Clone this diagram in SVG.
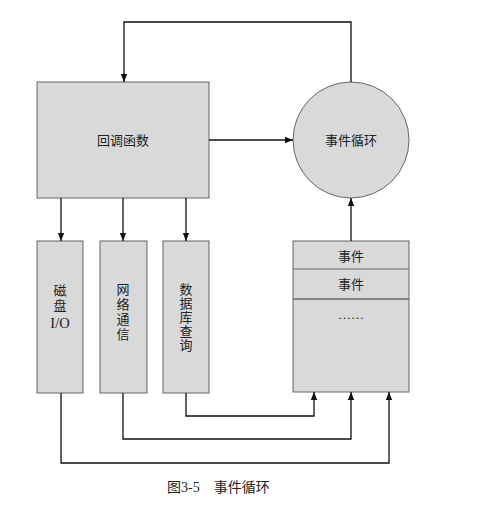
<svg xmlns="http://www.w3.org/2000/svg" width="499" height="508" viewBox="0 0 499 508">
<style>
.n{fill:#d9d9d9;stroke:#666;stroke-width:1}
.t{font-family:"Liberation Serif","Noto Sans CJK SC",serif;font-size:13px;fill:#222;text-anchor:middle;dominant-baseline:central}
.c{fill:none;stroke:#111;stroke-width:1.3}
</style>
<defs>
<marker id="a" viewBox="0 0 10 10" refX="10" refY="5" markerWidth="8" markerHeight="8" markerUnits="userSpaceOnUse" orient="auto-start-reverse">
<path d="M0,1 L10,5 L0,9 Z" fill="#111"/>
</marker>
</defs>
<rect width="499" height="508" fill="#fff"/>
<g id="callback">
<rect class="n" x="37" y="82" width="172" height="116"/>
<text class="t" x="123" y="140">回调函数</text>
</g>
<g id="loop">
<circle class="n" cx="351" cy="140" r="58"/>
<text class="t" x="351" y="140">事件循环</text>
</g>
<g id="disk">
<rect class="n" x="37" y="241" width="46" height="152"/>
<text class="t" x="60" y="290">磁</text>
<text class="t" x="60" y="305">盘</text>
<text class="t" x="60" y="323" style="font-size:14.5px">I/O</text>
</g>
<g id="net">
<rect class="n" x="100" y="241" width="47" height="152"/>
<text class="t" x="123" y="289">网</text>
<text class="t" x="123" y="304">络</text>
<text class="t" x="123" y="319">通</text>
<text class="t" x="123" y="334">信</text>
</g>
<g id="db">
<rect class="n" x="163" y="241" width="46" height="152"/>
<text class="t" x="186" y="289">数</text>
<text class="t" x="186" y="303">据</text>
<text class="t" x="186" y="317">库</text>
<text class="t" x="186" y="331">查</text>
<text class="t" x="186" y="345">询</text>
</g>
<g id="queue">
<rect class="n" x="293" y="241" width="116" height="151"/>
<line x1="293" y1="269" x2="409" y2="269" stroke="#666" stroke-width="1"/>
<line x1="293" y1="299" x2="409" y2="299" stroke="#666" stroke-width="1.5"/>
<text class="t" x="351" y="256">事件</text>
<text class="t" x="351" y="284">事件</text>
<text class="t" x="351" y="314">……</text>
</g>
<g id="connectors">
<polyline class="c" points="351,82 351,22 124,22 124,82" marker-end="url(#a)"/>
<line class="c" x1="209" y1="140" x2="293" y2="140" marker-end="url(#a)"/>
<line class="c" x1="61" y1="198" x2="61" y2="241" marker-end="url(#a)"/>
<line class="c" x1="123" y1="198" x2="123" y2="241" marker-end="url(#a)"/>
<line class="c" x1="186" y1="198" x2="186" y2="241" marker-end="url(#a)"/>
<line class="c" x1="351" y1="241" x2="351" y2="198" marker-end="url(#a)"/>
<polyline class="c" points="186,393 186,416 314,416 314,392" marker-end="url(#a)"/>
<polyline class="c" points="123,393 123,439 351,439 351,392" marker-end="url(#a)"/>
<polyline class="c" points="61,393 61,463 389,463 389,392" marker-end="url(#a)"/>
</g>
<text x="167" y="492" font-family="Liberation Serif,'Noto Sans CJK SC',serif" font-size="14" fill="#222">图3-5<tspan dx="14">事件循环</tspan></text>
</svg>
